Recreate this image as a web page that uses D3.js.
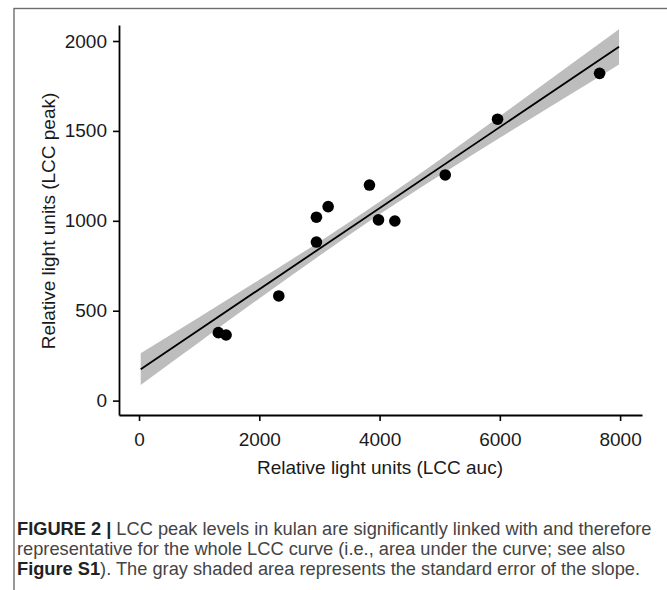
<!DOCTYPE html>
<html>
<head>
<meta charset="utf-8">
<script src="https://cdn.jsdelivr.net/npm/d3@7"></script>
<style>
  body { margin: 0; background: #fff; }
  text { font-family: "Liberation Sans", Arial, Helvetica, sans-serif; }
</style>
</head>
<body>
<div id="chart"></div>
<script>
// points (LCC auc vs LCC peak)
const aucValues = [1319, 1448, 2324, 2950, 2950, 3145, 3832, 3982, 4254, 5092, 5962, 7659];
const peakValues = [378, 365, 582, 1020, 882, 1079, 1199, 1005, 999, 1255, 1565, 1820];

// fitted line ends and the standard error ribbon
const fitX = [28, 7982];
const fitY = [175, 1968];
const ribbonX = [28, 1000, 2000, 3000, 4000, 5000, 6000, 7000, 7982];
const ribbonLow = [87, 325, 568, 806, 1036, 1252, 1462, 1668, 1870];
const ribbonHigh = [263, 463, 672, 884, 1106, 1340, 1582, 1826, 2066];

const xTicks = [0, 2000, 4000, 6000, 8000];
const yTicks = [0, 500, 1000, 1500, 2000];

const xTitle = "Relative light units (LCC auc)";
const yTitle = "Relative light units (LCC peak)";

const captionLines = [
  [["FIGURE 2 |", true], [" LCC peak levels in kulan are significantly linked with and therefore", false]],
  [["representative for the whole LCC curve (i.e., area under the curve; see also", false]],
  [["Figure S1", true], ["). The gray shaded area represents the standard error of the slope.", false]]
];

class Scatter {
  constructor(config) {
    this.config = config;
    this.svg = d3.select(config.div).append("svg")
      .attr("width", config.width)
      .attr("height", config.height);
    this.svg.append("rect")
      .attr("x", 14).attr("y", 8.5)
      .attr("width", config.width).attr("height", config.height)
      .attr("fill", "none").attr("stroke", "#6e6e6e").attr("stroke-width", 1.4);
  }

  createScales() {
    this.xScale = d3.scaleLinear().domain([-333, 8364]).range([119, 642]);
    this.yScale = d3.scaleLinear().domain([-80, 2089]).range([415, 25]);
  }

  renderRibbon() {
    const rows = ribbonX.map((x, i) => ({ x: x, lo: ribbonLow[i], hi: ribbonHigh[i] }));
    const area = d3.area()
      .x(d => this.xScale(d.x))
      .y0(d => this.yScale(d.lo))
      .y1(d => this.yScale(d.hi))
      .curve(d3.curveMonotoneX);
    this.svg.append("path").datum(rows)
      .attr("d", area)
      .attr("fill", "#bdbdbd");

    const line = d3.line().x(d => this.xScale(d[0])).y(d => this.yScale(d[1]));
    this.svg.append("path").datum(fitX.map((x, i) => [x, fitY[i]]))
      .attr("d", line)
      .attr("fill", "none").attr("stroke", "#000").attr("stroke-width", 1.8);
  }

  renderPoints() {
    this.svg.selectAll("circle.pt")
      .data(aucValues.map((x, i) => ({ x: x, y: peakValues[i] })))
      .enter().append("circle")
      .attr("class", "pt")
      .attr("cx", d => this.xScale(d.x))
      .attr("cy", d => this.yScale(d.y))
      .attr("r", 5.8)
      .attr("fill", "#000");
  }

  createAxis() {
    let xAxis = d3.axisBottom(this.xScale).tickValues(xTicks).tickFormat(d3.format("d"))
      .tickSize(6).tickSizeOuter(0).tickPadding(12);
    let yAxis = d3.axisLeft(this.yScale).tickValues(yTicks).tickFormat(d3.format("d"))
      .tickSize(6).tickSizeOuter(0).tickPadding(6);

    let gx = this.svg.append("g").attr("transform", "translate(0,415)").call(xAxis);
    let gy = this.svg.append("g").attr("transform", "translate(119,0)").call(yAxis);
    [gx, gy].forEach(g => {
      g.select(".domain").attr("stroke", "#000").attr("stroke-width", 1.8);
      g.selectAll(".tick line").attr("stroke", "#000").attr("stroke-width", 1.6);
      g.selectAll(".tick text").attr("fill", "#1a1a1a")
        .style("font-size", "19px")
        .style("font-family", "'Liberation Sans', Arial, sans-serif");
    });
  }

  renderLabels() {
    this.svg.append("text")
      .attr("x", 380).attr("y", 474)
      .attr("text-anchor", "middle")
      .attr("fill", "#1a1a1a")
      .style("font-size", "19px")
      .text(xTitle);

    this.svg.append("text")
      .attr("transform", "translate(55,221) rotate(-90)")
      .attr("text-anchor", "middle")
      .attr("fill", "#1a1a1a")
      .style("font-size", "19px")
      .text(yTitle);
  }

  renderCaption() {
    const baselines = [535, 555, 575];
    let lines = captionLines.map((parts, i) => {
      let t = this.svg.append("text")
        .attr("x", 17).attr("y", baselines[i])
        .attr("fill", "#3c3c3c")
        .style("font-size", "17px");
      parts.forEach(p => {
        t.append("tspan")
          .attr("font-weight", p[1] ? "bold" : "normal")
          .attr("fill", p[1] ? "#222" : "#444")
          .text(p[0]);
      });
      return t;
    });
    // fit the first line to the width it has in the figure
    let w = lines[0].node().getComputedTextLength();
    let size = 17 * 635 / w;
    lines.forEach(t => t.style("font-size", size + "px"));
  }
}

function main() {
  let c = { div: "#chart", width: 667, height: 590 };
  let plot = new Scatter(c);
  plot.createScales();
  plot.renderRibbon();
  plot.renderPoints();
  plot.createAxis();
  plot.renderLabels();
  plot.renderCaption();
}

main();
</script>
</body>
</html>
